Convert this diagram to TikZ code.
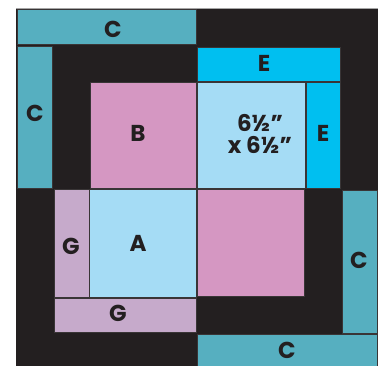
\documentclass[tikz,border=0pt]{standalone}
\usepackage{fontspec}
\setmainfont{Poppins}
\definecolor{ink}{HTML}{231F20}
\definecolor{teal}{HTML}{56AFC0}
\definecolor{ecyan}{HTML}{00BFF0}
\definecolor{lblue}{HTML}{A5DCF5}
\definecolor{pinkb}{HTML}{D597C2}
\definecolor{lilac}{HTML}{C6AACB}
\tikzset{
  tile/.style={draw=ink!90, line width=0.9pt},
  lbl/.style={text=ink, font=\fontsize{23}{25}\selectfont\bfseries, inner sep=0pt, anchor=center},
}
\begin{document}
\begin{tikzpicture}[x=1pt,y=-1pt]
\useasboundingbox (0,0) rectangle (383,366);
\begin{scope}
\clip (0,0) rectangle (383,366);
% black background
\fill[ink] (16,8) rectangle (378,372);
\draw[draw=gray!70, line width=0.6pt] (16,8) -- (378,8);
% tiles
\draw[tile, fill=teal]  (17,9)   rectangle (196,44);
\draw[tile, fill=teal]  (17,46)  rectangle (52,188);
\draw[tile, fill=ecyan] (197,47) rectangle (340,81);
\draw[tile, fill=pinkb] (90,82)  rectangle (196,188);
\draw[tile, fill=lblue] (197,82) rectangle (305,188);
\draw[tile, fill=ecyan] (306,82) rectangle (340,188);
\draw[tile, fill=lilac] (54,189) rectangle (89,297);
\draw[tile, fill=lblue] (89,189) rectangle (196,297);
\draw[tile, fill=pinkb] (197,189) rectangle (304,296);
\draw[tile, fill=lilac] (54,298) rectangle (196,332);
\draw[tile, fill=teal]  (342,190) rectangle (377,333);
\draw[tile, fill=teal]  (197,334) rectangle (377,372);
\end{scope}
% labels
\node[lbl] (ctop) at (113,29) {C};
\node[lbl] (cleft) at (35,113) {C};
\node[lbl] (b) at (138,133) {B};
\node[lbl] (etop) at (264,63) {E};
\node[lbl, align=center] (sq) at (260,134) {6½"\\[-3pt]x 6½"};
\node[lbl] (eright) at (323,133) {E};
\node[lbl] (gleft) at (71,246) {G};
\node[lbl] (a) at (138,243) {A};
\node[lbl] (gbot) at (118,313) {G};
\node[lbl] (cright) at (359,260) {C};
\node[lbl] (cbot) at (287,350) {C};
\end{tikzpicture}
\end{document}
